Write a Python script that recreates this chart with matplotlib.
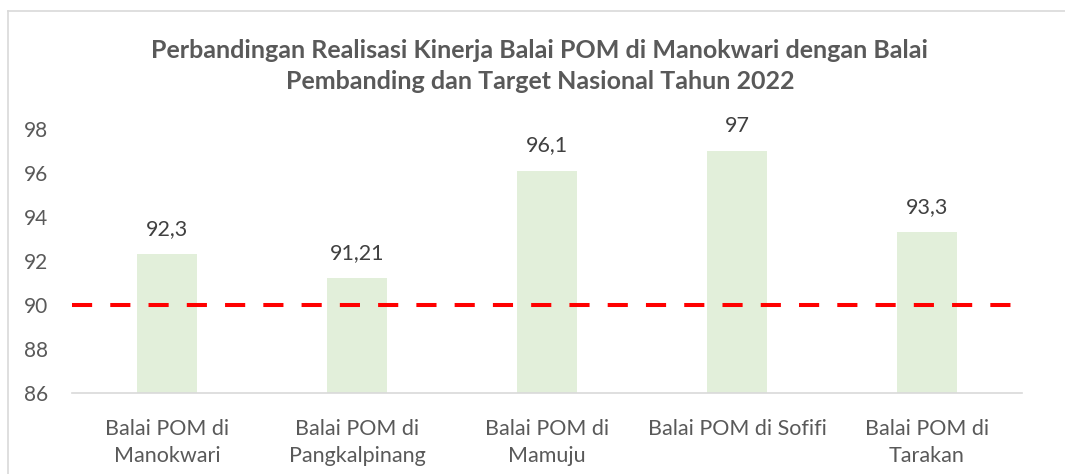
import matplotlib.pyplot as plt
import numpy as np

# data
categories = ['Balai POM di\nManokwari', 'Balai POM di\nPangkalpinang', 'Balai POM di\nMamuju',
              'Balai POM di Sofifi', 'Balai POM di\nTarakan']
values = [92.3, 91.21, 96.1, 97, 93.3]
value_labels = ['92,3', '91,21', '96,1', '97', '93,3']
target = 90
yticks = [86, 88, 90, 92, 94, 96, 98]

plt.rcParams['font.family'] = ['Lato', 'DejaVu Sans']
text_color = '#595959'

fig = plt.figure(figsize=(10.65, 4.74), dpi=100)
ax = fig.add_axes([0.0676, 0.1709, 0.892, 0.557])

x = np.arange(len(categories))
ax.bar(x, values, width=0.32, color='#E2EFDA', bottom=0, zorder=1)
for xi, v, lab in zip(x, values, value_labels):
    ax.annotate(lab, (xi, v), xytext=(0, 11), textcoords='offset points',
                ha='center', va='bottom', fontsize=15.5, color='#404040')

ax.axhline(target, color='#FF0000', lw=2.9, dashes=(5, 4.5), zorder=3)

ax.set_xlim(-0.5, len(categories) - 0.5)
ax.set_ylim(86, 98)
ax.set_yticks(yticks)
ax.set_yticklabels([str(t) for t in yticks], fontsize=15, color=text_color)
ax.set_xticks(x)
ax.set_xticklabels(categories, fontsize=15.5, color=text_color, linespacing=1.42)
ax.tick_params(axis='y', length=0, pad=17)
ax.tick_params(axis='x', length=0, pad=19)

for s in ['top', 'right', 'left']:
    ax.spines[s].set_visible(False)
ax.spines['bottom'].set_color('#D9D9D9')
ax.spines['bottom'].set_linewidth(1.2)

fig.text(0.507, 0.861, 'Perbandingan Realisasi Kinerja Balai POM di Manokwari dengan Balai\nPembanding dan Target Nasional Tahun 2022',
         ha='center', va='center', fontsize=18, fontweight='bold', color=text_color, linespacing=1.42)

# chart border (top and left edges visible)
fig.add_artist(plt.Line2D([8 / 1065, 1], [1 - 11 / 474, 1 - 11 / 474], color='#D9D9D9', lw=1.2))
fig.add_artist(plt.Line2D([8 / 1065, 8 / 1065], [0, 1 - 11 / 474], color='#D9D9D9', lw=1.2))

fig.savefig('out.png', dpi=100)
